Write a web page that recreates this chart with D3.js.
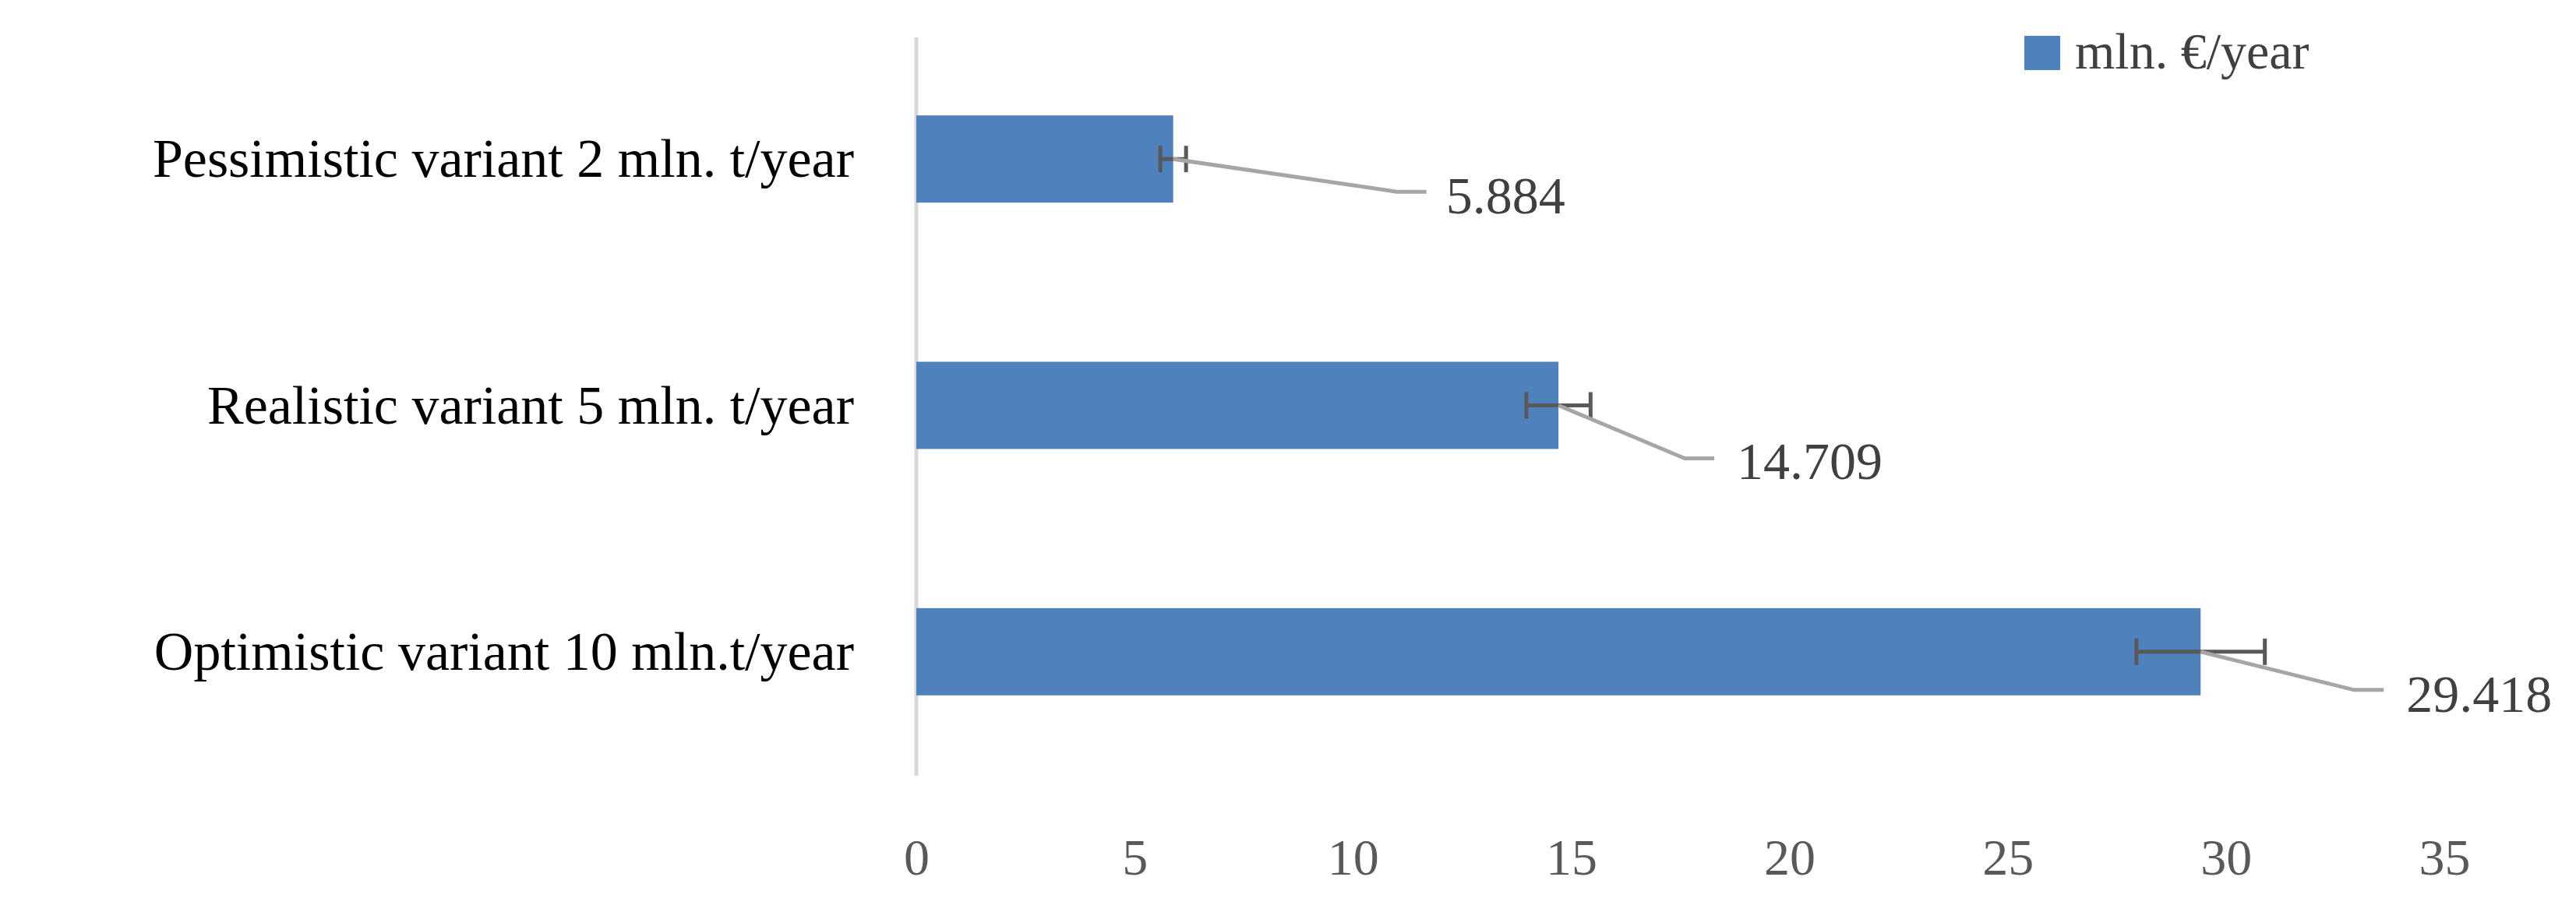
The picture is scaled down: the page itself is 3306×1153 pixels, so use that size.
<!DOCTYPE html>
<html><head><meta charset="utf-8">
<script src="https://cdn.jsdelivr.net/npm/d3@7"></script>
<style>body{margin:0;background:#fff}</style></head>
<body><svg id="c" width="3306" height="1153"></svg>
<script>
const categories=["Pessimistic variant 2 mln. t/year","Realistic variant 5 mln. t/year","Optimistic variant 10 mln.t/year"];
const values=[5.884,14.709,29.418];
const errorPct=0.05;
const ticks=[0,5,10,15,20,25,30,35];
const seriesName="mln. €/year";
// leader-line label layout (pixel offsets from bar end/centre): [elbowDx, elbowDy, textDx, textDy]
const labelLayout=[[287,42,350,70],[162,68,229,94],[197,49,264,77]];

const svg=d3.select("#c");
const font="'Liberation Serif','DejaVu Serif',serif";
const x=d3.scaleLinear().domain([0,35]).range([1176,3137]);
const y=d3.scaleBand().domain(categories).range([46,995]).paddingInner(0.646).paddingOuter(0.323);

svg.append("line").attr("x1",1176).attr("x2",1176).attr("y1",48).attr("y2",996).attr("stroke","#d9d9d9").attr("stroke-width",5);

const xa=svg.append("g").attr("transform","translate(0,1060)").call(d3.axisBottom(x).tickValues(ticks).tickSize(0).tickPadding(0));
xa.select(".domain").remove();
xa.selectAll("text").attr("font-family",font).attr("font-size",66).attr("fill","#595959").attr("dy","0.95em");

svg.selectAll("text.cat").data(categories).enter().append("text").attr("class","cat")
 .attr("x",1096).attr("y",d=>y(d)+y.bandwidth()/2).attr("dy","0.33em").attr("text-anchor","end")
 .attr("font-family",font).attr("font-size",70).attr("fill","#000").text(d=>d);

svg.selectAll("rect.bar").data(values).enter().append("rect").attr("class","bar")
 .attr("x",x(0)).attr("y",(d,i)=>y(categories[i])).attr("width",d=>x(d)-x(0)).attr("height",y.bandwidth()).attr("fill","#4f81bd");

values.forEach((v,i)=>{
 const cy=y(categories[i])+y.bandwidth()/2, e=v*errorPct;
 const g=svg.append("g").attr("stroke","#595959").attr("stroke-width",5);
 g.append("line").attr("x1",x(v-e)).attr("x2",x(v+e)).attr("y1",cy).attr("y2",cy);
 [v-e,v+e].forEach(t=>g.append("line").attr("x1",x(t)).attr("x2",x(t)).attr("y1",cy-17).attr("y2",cy+17));
 const L=labelLayout[i], x0=x(v);
 svg.append("polyline").attr("points",`${x0},${cy} ${x0+L[0]},${cy+L[1]} ${x0+L[0]+38},${cy+L[1]}`)
  .attr("fill","none").attr("stroke","#a6a6a6").attr("stroke-width",5);
 svg.append("text").attr("x",x0+L[2]).attr("y",cy+L[3]).attr("font-family",font).attr("font-size",68).attr("fill","#404040").text(v.toFixed(3));
});

svg.append("rect").attr("x",2598).attr("y",46).attr("width",46).attr("height",44).attr("fill","#4f81bd");
svg.append("text").attr("x",2663).attr("y",88).attr("font-family",font).attr("font-size",66).attr("fill","#404040").text(seriesName);
</script></body></html>
